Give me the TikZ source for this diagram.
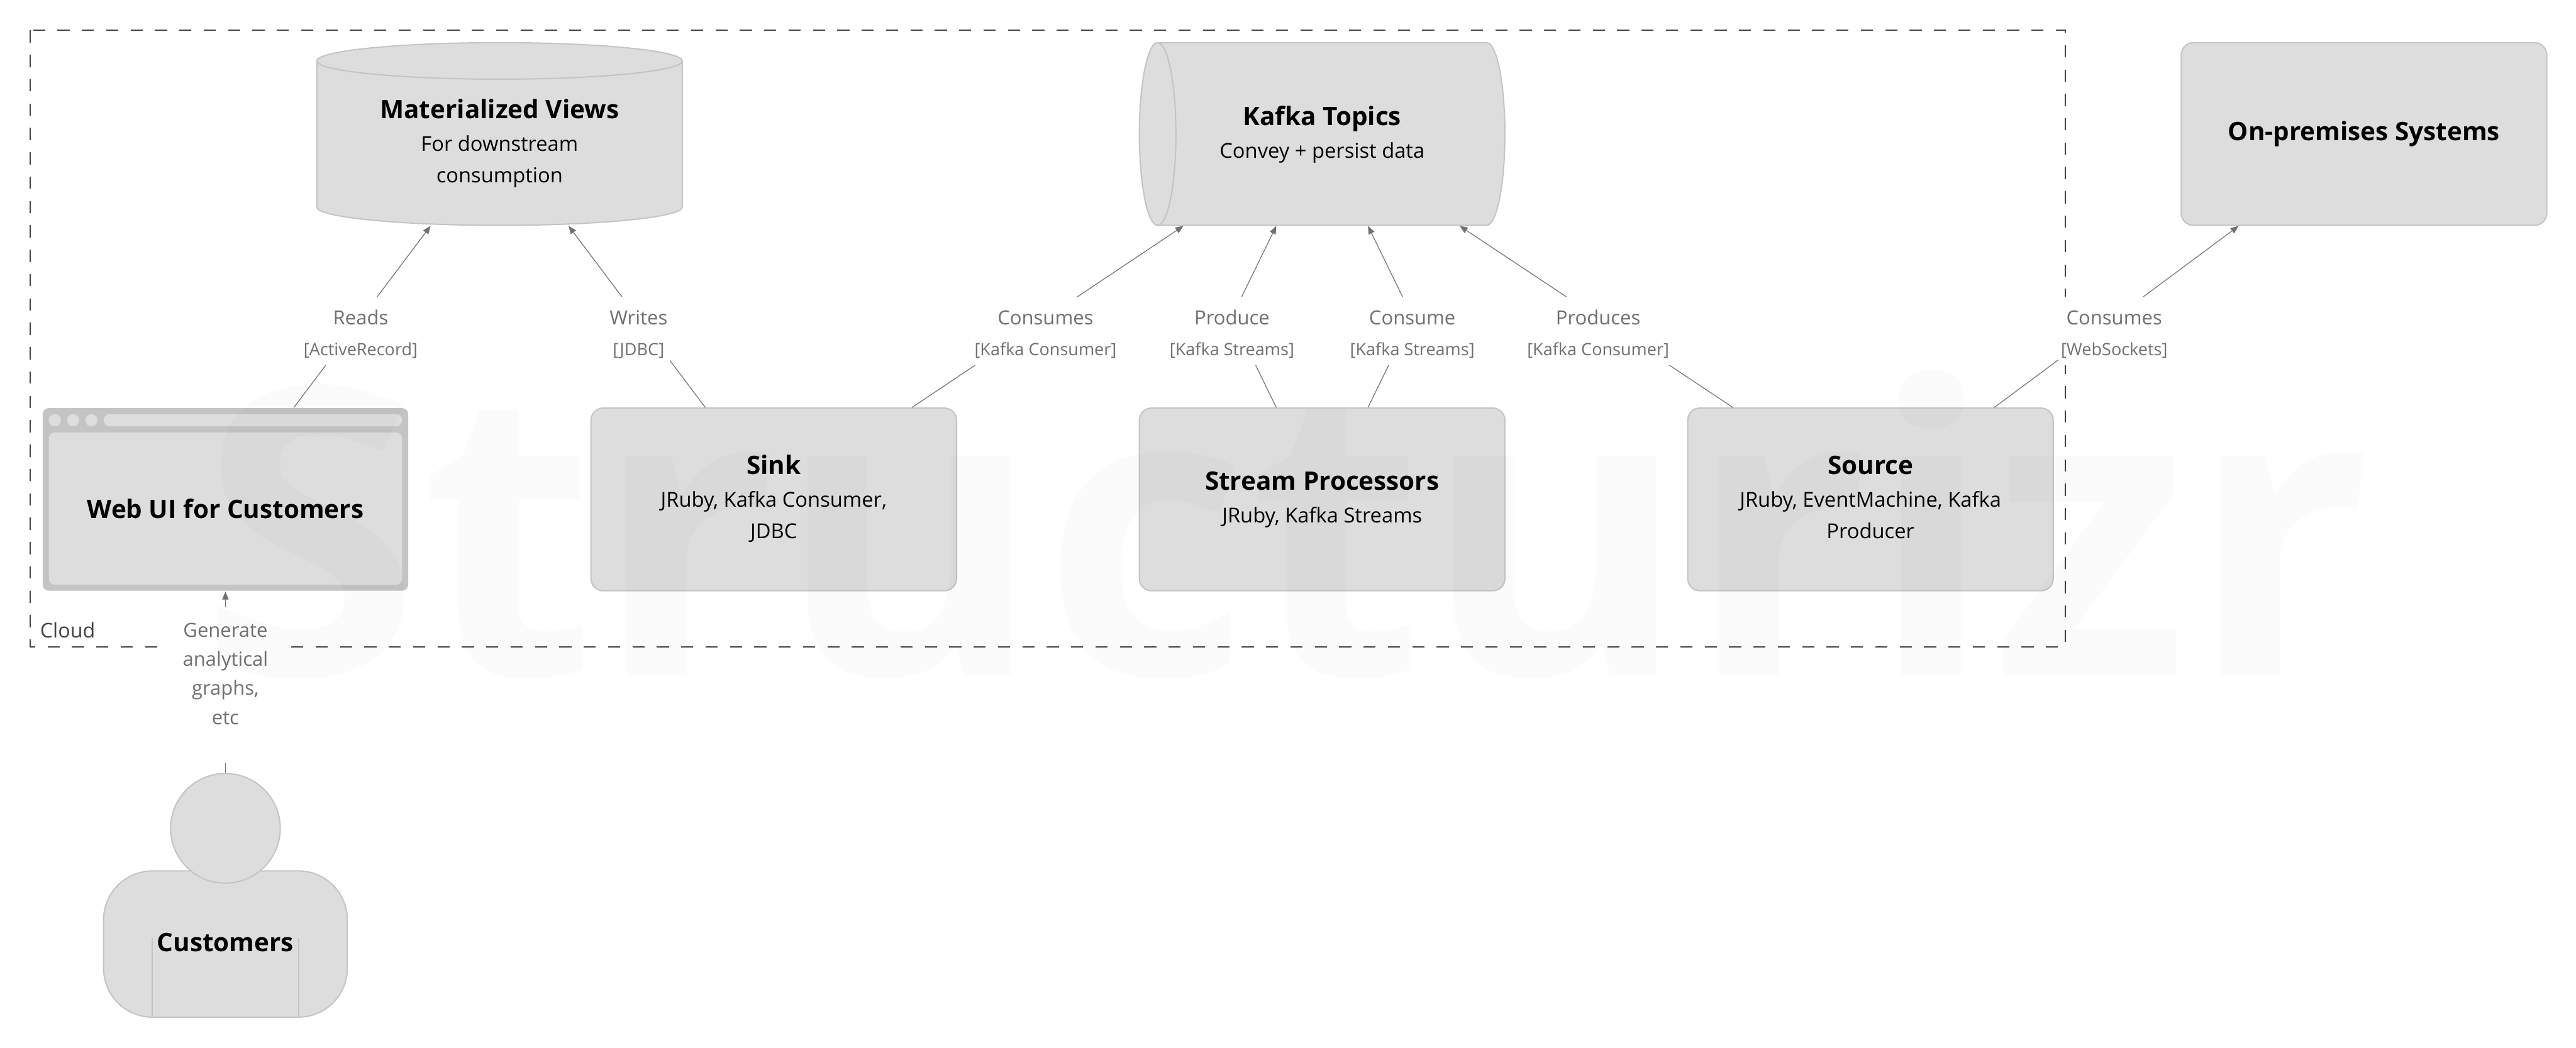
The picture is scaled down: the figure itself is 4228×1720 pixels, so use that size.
\documentclass[tikz,border=0pt]{standalone}
\usepackage{fontspec}
\usepackage{array}
\setmainfont{Open Sans}
\usetikzlibrary{arrows.meta,calc}
\definecolor{shapefill}{HTML}{DDDDDD}
\definecolor{shapeedge}{HTML}{C4C4C4}
\definecolor{linkgrey}{HTML}{707070}
\definecolor{cloudgrey}{HTML}{444444}
\newcommand\namef{\fontsize{10.02}{12.48}\selectfont\bfseries}
\newcommand\descf{\fontsize{8.1}{12.48}\selectfont}
\newcommand\linkf{\fontsize{7.68}{12.48}\selectfont}
\newcommand\techf{\fontsize{6.7}{12.48}\selectfont}
% #1 raise, #2 row height, #3 rows
\newcommand\ttxt[3]{\raisebox{#1}[0pt][0pt]{\fontsize{8}{#2}\selectfont\begin{tabular}[c]{@{}c@{}}#3\end{tabular}}}
\newcommand\shapetxt[3]{\ttxt{#1}{12.48pt}{{\namef #2}\\[.4pt]{\descf #3}}}
\newcommand\shapetxtii[4]{\ttxt{#1}{12.48pt}{{\namef #2}\\[.4pt]{\descf #3}\\{\descf #4}}}
\newcommand\nametxt[2]{\ttxt{#1}{12.48pt}{{\namef #2}}}
\newcommand\linktxt[2]{\ttxt{-3.1pt}{12.48pt}{{\linkf #1}\\[-.4pt]{\techf #2}}}
\tikzset{
  px/.style={x=0.24pt,y=-0.24pt},
  boxshape/.style={draw=shapeedge,fill=shapefill,line width=.5pt,rounded corners=4.8pt,minimum width=144pt,minimum height=72pt,inner sep=0pt,text=black},
  plainshape/.style={minimum width=144pt,minimum height=72pt,inner sep=0pt,text=black},
  cyl/.style={draw=shapeedge,fill=shapefill,line width=.5pt},
  link/.style={draw=linkgrey,line width=.3pt,-{Triangle[length=3.2pt,width=2.5pt]}},
  linklabel/.style={fill=white,text=linkgrey,inner xsep=1pt,inner ysep=0pt,minimum height=27.1pt},
  browserdot/.style={circle,fill=shapefill,minimum size=4.8pt,inner sep=0pt},
}
\begin{document}
\begin{tikzpicture}[px]
\useasboundingbox (0,0) rectangle (4228,1720);
\fill[white] (0,0) rectangle (4228,1720);
% boundary
\draw[cloudgrey,line width=.5pt,dash pattern=on 4.8pt off 4.8pt] (50,50) rectangle (3390,1062);
\node[anchor=west,text=cloudgrey,inner sep=0pt,font=\fontsize{8}{10}\selectfont] (cloud) at (65,1035) {Cloud};
% Materialized Views cylinder
\draw[cyl] (520,100) arc[start angle=180,end angle=360,x radius=300,y radius=30]
  -- (1120,340) arc[start angle=0,end angle=180,x radius=300,y radius=30] -- cycle;
\draw[cyl,fill=none] (1120,100) arc[start angle=0,end angle=180,x radius=300,y radius=30];
\node[plainshape] (views) at (820,220) {\shapetxtii{-6pt}{Materialized Views}{For downstream}{consumption}};
% Kafka pipe
\draw[cyl] (1900,70) -- (2440,70) arc[start angle=270,end angle=450,x radius=30,y radius=150]
  -- (1900,370) arc[start angle=90,end angle=270,x radius=30,y radius=150] -- cycle;
\draw[cyl,fill=none] (1900,70) arc[start angle=270,end angle=450,x radius=30,y radius=150];
\node[plainshape] (kafka) at (2170,220) {\shapetxt{-2.6pt}{Kafka Topics}{Convey + persist data}};
% On-premises
\node[boxshape] (onprem) at (3880,220) {\nametxt{-2.1pt}{On-premises Systems}};
% Web UI
\node[boxshape,draw=none,fill=shapeedge,rounded corners=2.4pt] (webui) at (370,820) {};
\node[plainshape,fill=shapefill,rounded corners=2.4pt,minimum width=139.2pt,minimum height=60pt] (webinner) at (370,835) {\nametxt{-3.35pt}{Web UI for Customers}};
\node[browserdot] (dota) at (90,690) {};
\node[browserdot] (dotb) at (120,690) {};
\node[browserdot] (dotc) at (150,690) {};
\node[fill=shapefill,rounded corners=2.4pt,minimum width=117.6pt,minimum height=4.8pt,inner sep=0pt] (urlbar) at (415,690) {};
% containers
\node[boxshape] (sink) at (1270,820) {\shapetxtii{-2.3pt}{Sink}{JRuby, Kafka Consumer,}{JDBC}};
\node[boxshape] (stream) at (2170,820) {\shapetxt{-2.3pt}{Stream Processors}{JRuby, Kafka Streams}};
\node[boxshape] (source) at (3070,820) {\shapetxtii{-2.3pt}{Source}{JRuby, EventMachine, Kafka}{Producer}};
% person
\node[boxshape,rounded corners=19.2pt,minimum width=96pt,minimum height=57.6pt] (custbody) at (370,1550) {\nametxt{-2.35pt}{Customers}};
\draw[shapeedge,line width=.5pt] (250,1540) coordinate (armla) -- (250,1670) coordinate (armlb);
\draw[shapeedge,line width=.5pt] (490,1540) coordinate (armra) -- (490,1670) coordinate (armrb);
\node[circle,draw=shapeedge,fill=shapefill,line width=.5pt,minimum size=43.2pt,inner sep=0pt] (custhead) at (370,1360) {};
% connectors
\coordinate (vproduce) at (2022,520);
\coordinate (vconsume) at (2318,520);
\draw[link] ($(webui.north west)!.6867!(webui.north east)$) -- ($(views.south west)!.3117!(views.south east)$);
\draw[link] ($(sink.north west)!.3133!(sink.north east)$) -- ($(views.south west)!.688!(views.south east)$);
\draw[link] ($(sink.north west)!.8767!(sink.north east)$) -- ($(kafka.south west)!.1217!(kafka.south east)$);
\draw[link] ($(stream.north west)!.375!(stream.north east)$) -- (vproduce) -- ($(kafka.south west)!.375!(kafka.south east)$);
\draw[link] ($(stream.north west)!.625!(stream.north east)$) -- (vconsume) -- ($(kafka.south west)!.625!(kafka.south east)$);
\draw[link] ($(source.north west)!.125!(source.north east)$) -- ($(kafka.south west)!.875!(kafka.south east)$);
\draw[link] ($(source.north west)!.8375!(source.north east)$) -- ($(onprem.south west)!.1583!(onprem.south east)$);
\draw[link] (custhead.north) -- (webui.south);
% labels
\node[linklabel] (lreads) at (592,543.5) {\linktxt{Reads}{[ActiveRecord]}};
\node[linklabel] (lwrites) at (1048,543.5) {\linktxt{Writes}{[JDBC]}};
\node[linklabel] (lconsumes) at (1716,543.5) {\linktxt{Consumes}{[Kafka Consumer]}};
\node[linklabel] (lproduce) at (2022,543.5) {\linktxt{Produce}{[Kafka Streams]}};
\node[linklabel] (lconsume) at (2318,543.5) {\linktxt{Consume}{[Kafka Streams]}};
\node[linklabel] (lproduces) at (2623,543.5) {\linktxt{Produces}{[Kafka Consumer]}};
\node[linklabel] (lws) at (3470,543.5) {\linktxt{Consumes}{[WebSockets]}};
\node[linklabel,minimum width=48pt,minimum height=61.4pt] (lgen) at (370,1125) {\ttxt{2.1pt}{11.5pt}{{\linkf Generate}\\{\linkf analytical}\\{\linkf graphs,}\\{\linkf etc}}};
% watermark
\node[anchor=base,inner sep=0pt,opacity=.015,text=black,font=\fontsize{158.4}{160}\selectfont\bfseries] (wm) at (2110,1109) {Structurizr};
\end{tikzpicture}
\end{document}
